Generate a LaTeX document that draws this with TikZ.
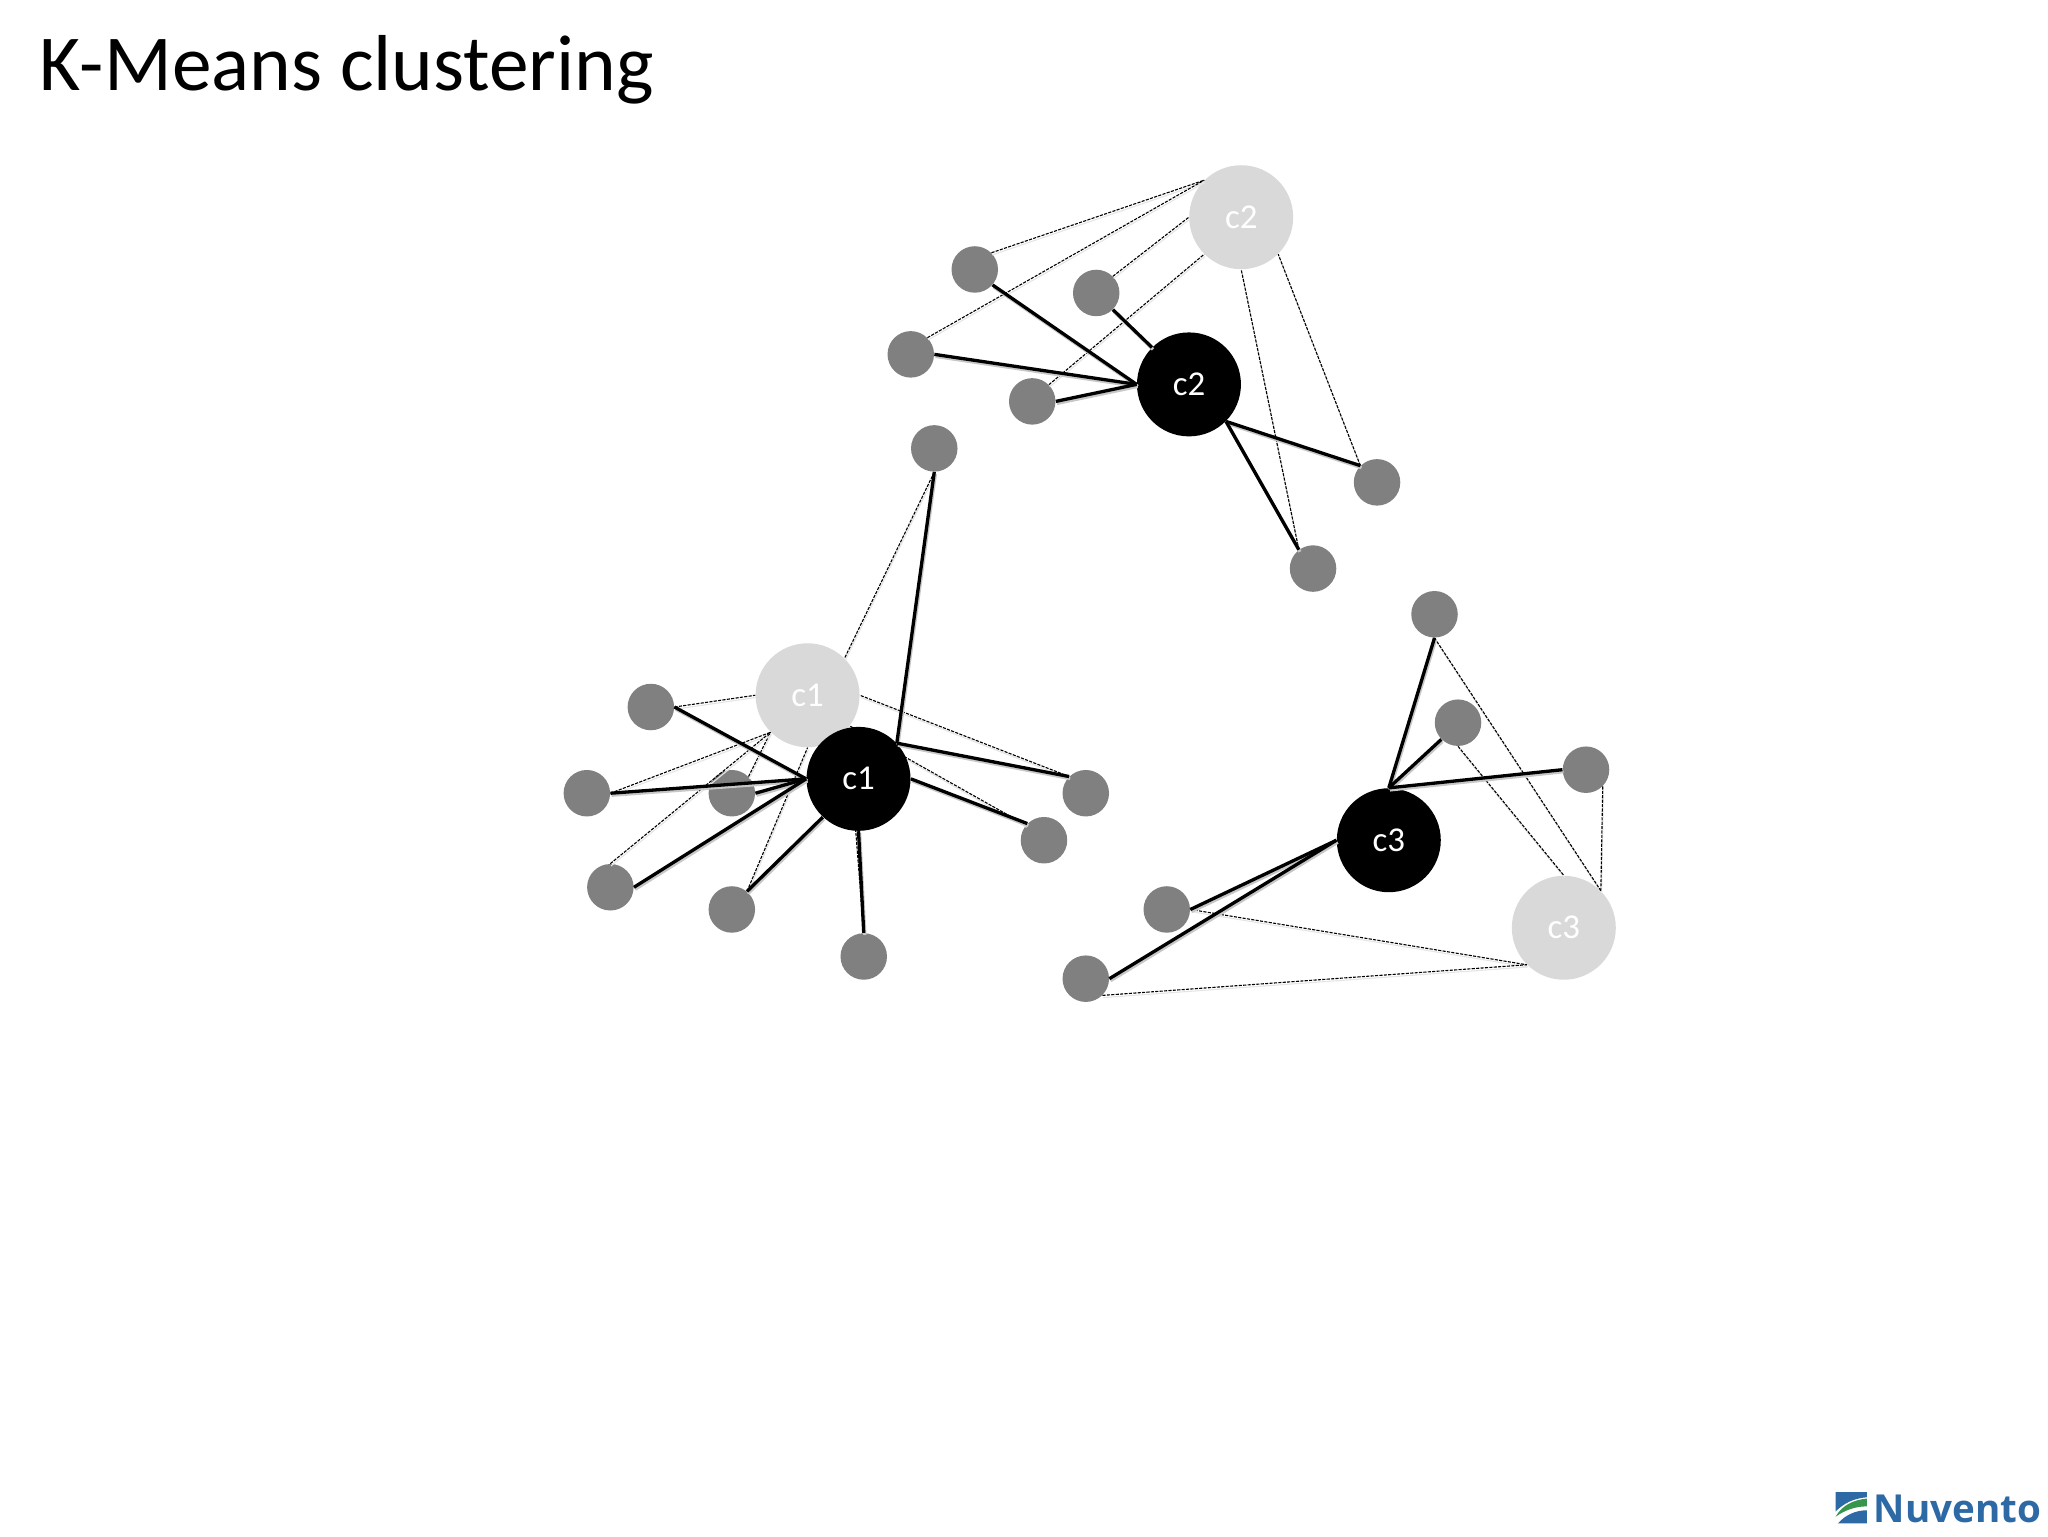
\documentclass[tikz,border=0pt]{standalone}
\usepackage{fontspec}
\setmainfont{Carlito}
\newfontfamily\logofont{Open Sans}
\usetikzlibrary{positioning, calc}

\definecolor{lightcentre}{RGB}{217,217,217}
\definecolor{logoblue}{RGB}{45,105,165}
\definecolor{logogreen}{RGB}{55,150,75}

\tikzset{
    point/.style={circle, fill=gray, inner sep=0pt, minimum size=8.9mm},
    oldcentre/.style={circle, fill=lightcentre, text=white, inner sep=0pt, minimum size=19.9mm, font=\fontsize{19}{19}\selectfont},
    newcentre/.style={circle, fill=black, text=white, inner sep=0pt, minimum size=19.9mm, font=\fontsize{19}{19}\selectfont},
    solidlink/.style={black, line width=1.8pt, preaction={draw=black!22, line width=1.8pt, transform canvas={shift={(0.6pt,-1.1pt)}}}},
    dashedlink/.style={black, line width=0.6pt, dash pattern=on 1.7pt off 0.7pt, preaction={draw=black!10, solid, line width=0.6pt, transform canvas={shift={(0.4pt,-1.2pt)}}}},
}

\begin{document}
\begin{tikzpicture}[x=0.25mm, y=-0.25mm]
        \useasboundingbox (-0.3,-0.3) rectangle (1567.7,1175.7);

        \node[anchor=base west, inner sep=0pt, font=\fontsize{43.2}{43.2}\selectfont] (title) at (30,69) {K-Means clustering};

        % points of the three clusters
        \foreach \name/\x/\y in {a1/715/343, a2/498/541, a3/449/607, a4/560/607, a5/467/679, a6/560/696, a7/661/732, a8/831/607, a9/799/643,
                                 b1/746/206, b2/839/224, b3/697/271, b4/790/307, b5/1054/369, b6/1005/435,
                                 d1/1098/470, d2/1116/553, d3/1214/589, d4/893/696, d5/831/749}
        {
            \node[point] (\name) at (\x,\y) {};
        }

        % old centres
        \node[oldcentre] (oldc1) at (618,532) {c1};
        \node[oldcentre] (oldc2) at (950,166) {c2};
        \node[oldcentre] (oldc3) at (1197,710) {c3};

        % distances to the old centres
        \foreach \from/\to in {a1.-90/oldc1.45, a2.0/oldc1.180, a3.0/oldc1.225, a4.45/oldc1.225, a5.90/oldc1.225, a6.50/oldc1.-90, a7.90/oldc1.-40, a8.135/oldc1.0, a9.140/oldc1.-36,
                               b1.45/oldc2.135, b2.45/oldc2.180, b3.45/oldc2.135, b4.45/oldc2.225, b5.135/oldc2.-45, b6.127/oldc2.-90,
                               d1.-90/oldc3.45, d2.-90/oldc3.90, d3.-45/oldc3.45, d4.0/oldc3.225, d5.-45/oldc3.225}
        {
            \draw[dashedlink] (\from) -- (\to);
        }

        % new centres
        \node[newcentre] (newc1) at (657,596) {c1};
        \node[newcentre] (newc2) at (910,294) {c2};
        \node[newcentre] (newc3) at (1063,643) {c3};

        % distances to the new centres
        \foreach \from/\to in {a1.-90/newc1.43, a2.0/newc1.180, a3.0/newc1.180, a4.0/newc1.180, a5.0/newc1.180, a6.50/newc1.227, a7.90/newc1.-90, a8.135/newc1.43, a9.135/newc1.0,
                               b1.-41/newc2.180, b2.-45/newc2.135, b3.0/newc2.180, b4.0/newc2.180, b5.135/newc2.-45, b6.127/newc2.-45,
                               d1.-90/newc3.90, d2.225/newc3.90, d3.180/newc3.90, d4.0/newc3.180, d5.0/newc3.180}
        {
            \draw[solidlink] (\from) -- (\to);
        }

        % logo
        \fill[logoblue] (1405,1142) -- (1429,1142) -- (1429,1146) .. controls (1418,1147) and (1411,1151) .. (1405,1157) -- cycle;
        \fill[logogreen] (1405,1161) .. controls (1410,1152) and (1419,1148) .. (1429,1147) -- (1429,1153) .. controls (1420,1153) and (1412,1156) .. (1405,1161) -- cycle;
        \fill[logoblue] (1407,1166) .. controls (1412,1160) and (1420,1156) .. (1429,1156) -- (1429,1166) -- cycle;
        \node[anchor=base west, inner sep=0pt, text=logoblue, font=\logofont\bfseries\fontsize{21}{21}\selectfont] (logotext) at (1434,1165) {Nuvento};
    \end{tikzpicture}
\end{document}
